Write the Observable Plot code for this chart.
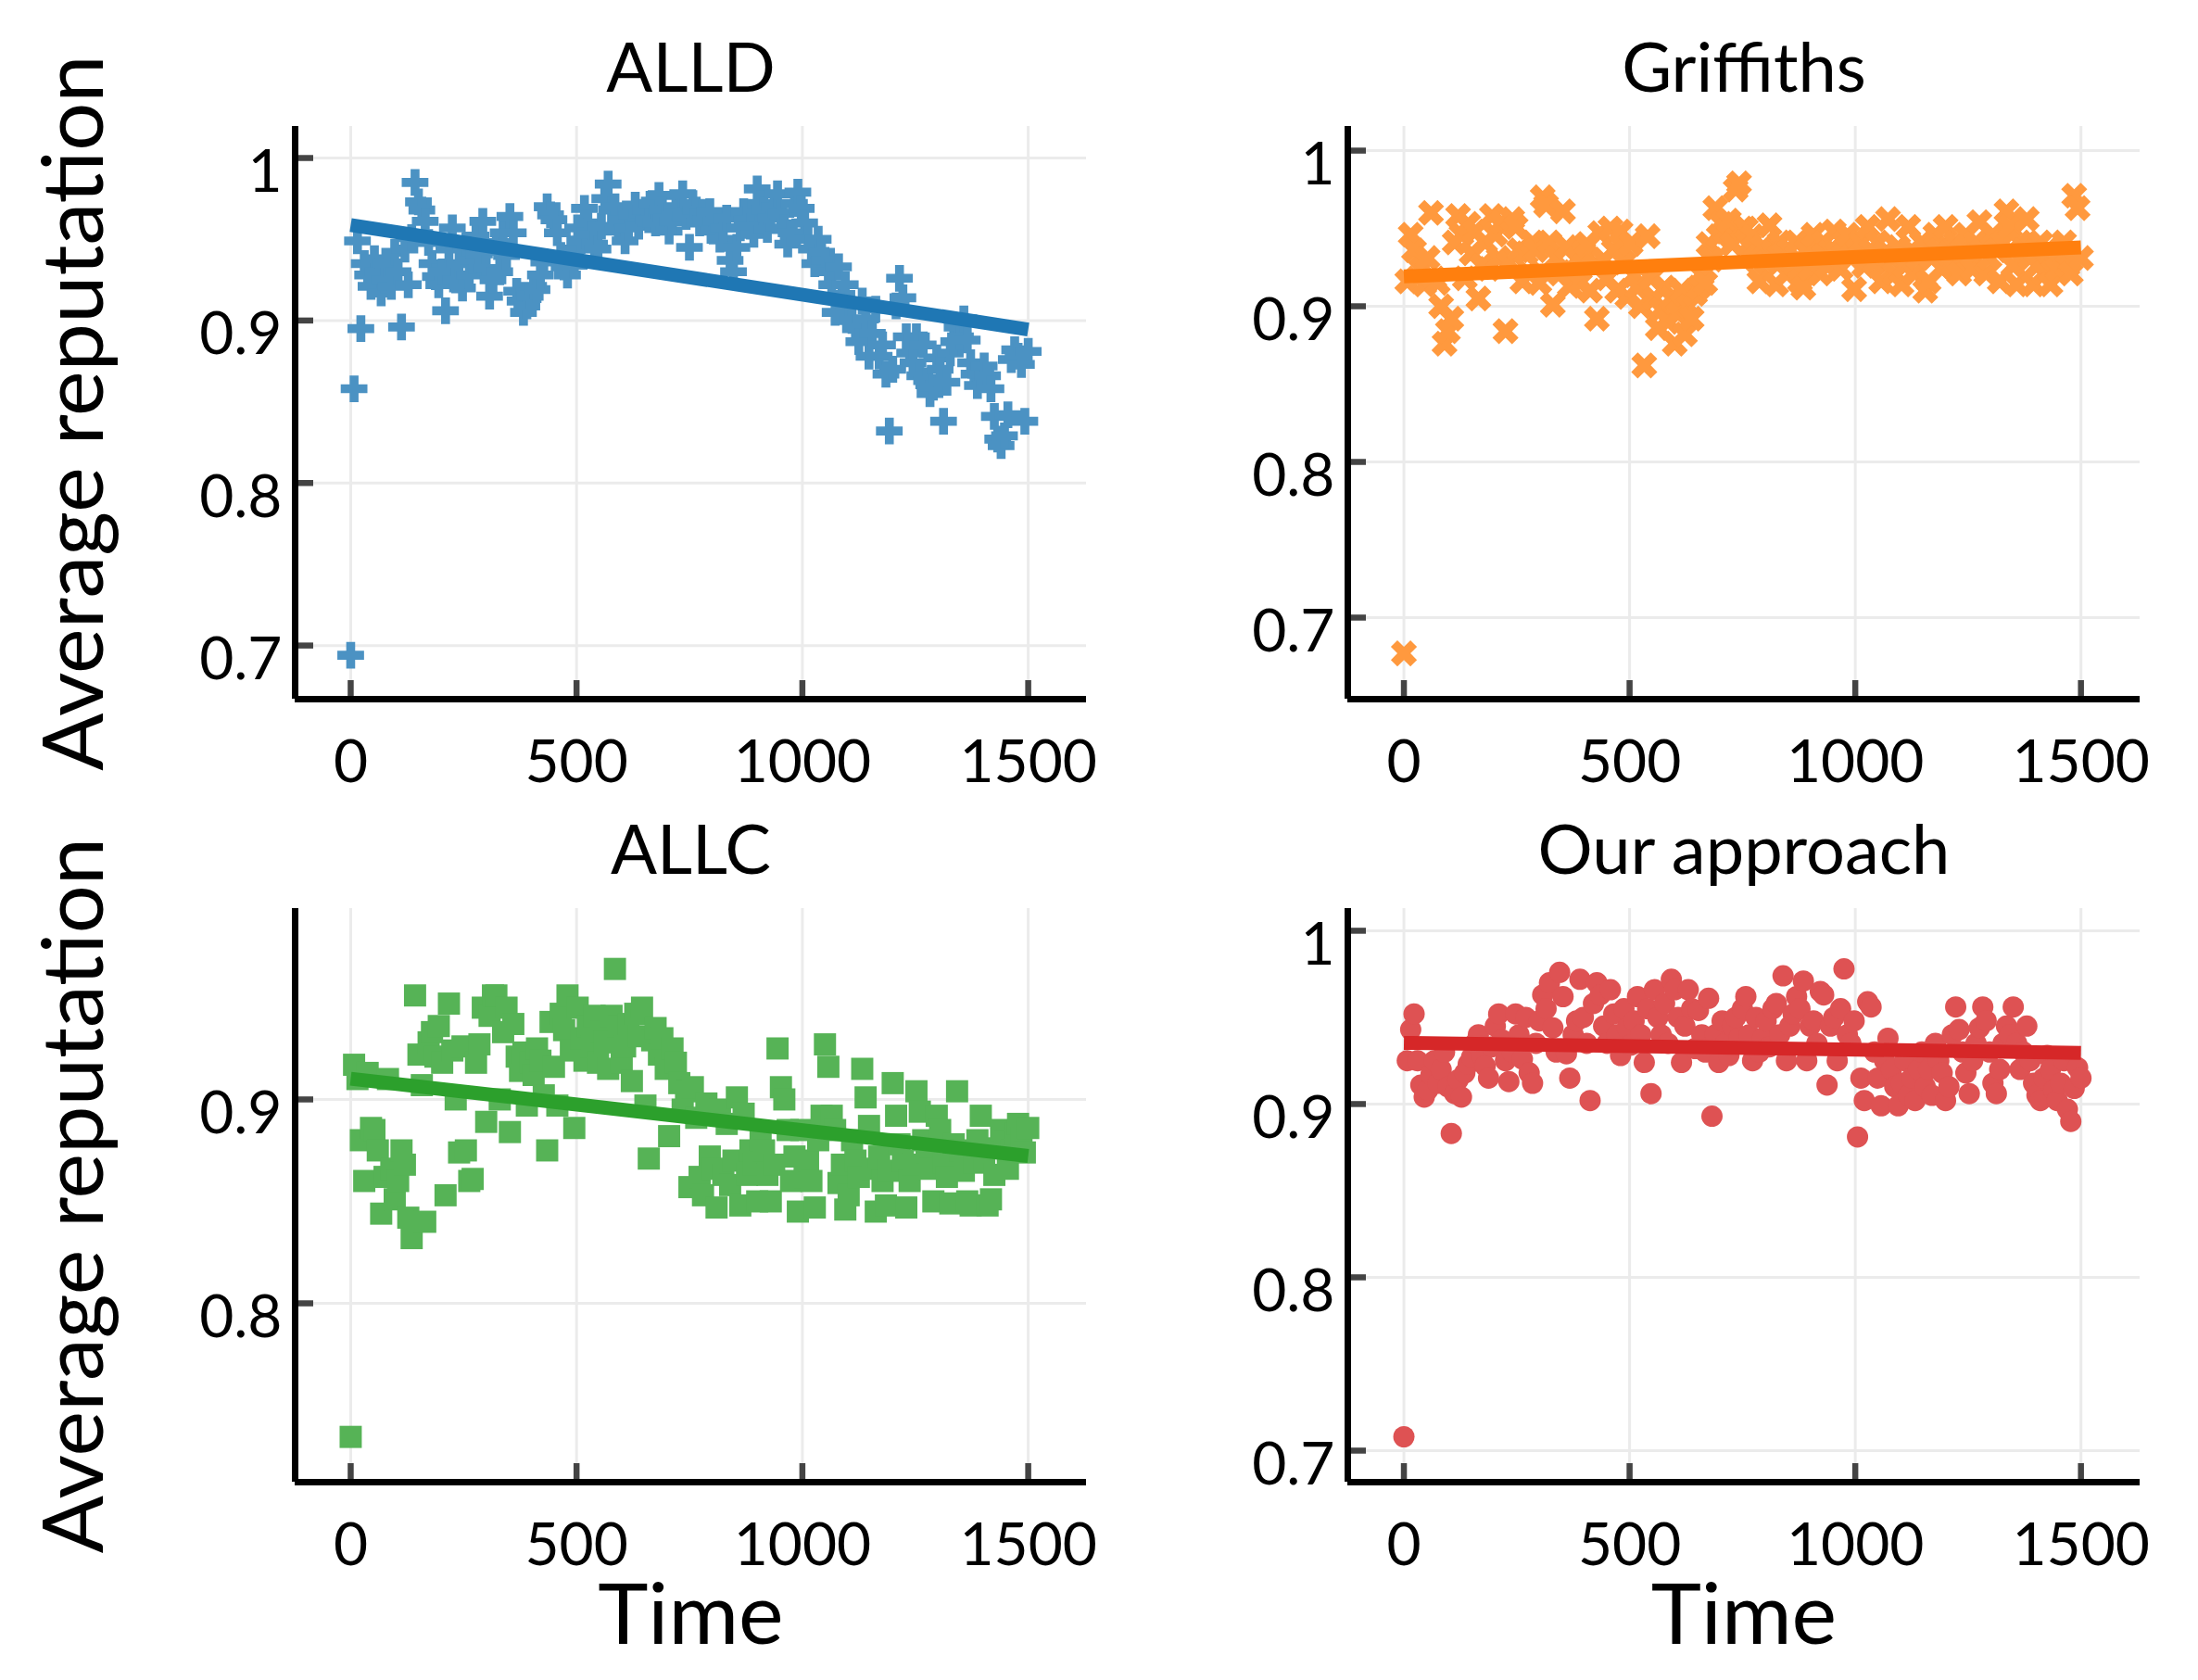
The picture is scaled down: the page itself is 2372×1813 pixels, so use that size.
<!DOCTYPE html>
<html><head><meta charset="utf-8">
<script src="https://cdn.jsdelivr.net/npm/d3@7"></script>
<script src="https://cdn.jsdelivr.net/npm/@observablehq/plot@0.6"></script>
<style>
html,body{margin:0;padding:0;background:#fff;}
#wrap{position:relative;width:2372px;height:1813px;overflow:hidden;}
#wrap svg{position:absolute;}
</style></head><body><div id="wrap"></div>
<script>
const time = [0,7.5,15,22.5,30,37.5,45,52.5,60,67.5,75,82.5,90,97.5,105,112.5,120,127.5,135,142.5,150,157.5,165,172.5,180,187.5,195,202.5,210,217.5,225,232.5,240,247.5,255,262.5,270,277.5,285,292.5,300,307.5,315,322.5,330,337.5,345,352.5,360,367.5,375,382.5,390,397.5,405,412.5,420,427.5,435,442.5,450,457.5,465,472.5,480,487.5,495,502.5,510,517.5,525,532.5,540,547.5,555,562.5,570,577.5,585,592.5,600,607.5,615,622.5,630,637.5,645,652.5,660,667.5,675,682.5,690,697.5,705,712.5,720,727.5,735,742.5,750,757.5,765,772.5,780,787.5,795,802.5,810,817.5,825,832.5,840,847.5,855,862.5,870,877.5,885,892.5,900,907.5,915,922.5,930,937.5,945,952.5,960,967.5,975,982.5,990,997.5,1005,1012.5,1020,1027.5,1035,1042.5,1050,1057.5,1065,1072.5,1080,1087.5,1095,1102.5,1110,1117.5,1125,1132.5,1140,1147.5,1155,1162.5,1170,1177.5,1185,1192.5,1200,1207.5,1215,1222.5,1230,1237.5,1245,1252.5,1260,1267.5,1275,1282.5,1290,1297.5,1305,1312.5,1320,1327.5,1335,1342.5,1350,1357.5,1365,1372.5,1380,1387.5,1395,1402.5,1410,1417.5,1425,1432.5,1440,1447.5,1455,1462.5,1470,1477.5,1485,1492.5,1500];

const alld = [
0.694,0.858,0.949,0.895,0.935,0.928,0.921,0.938,0.930,0.917,
0.925,0.935,0.921,0.942,0.930,0.896,0.944,0.922,0.951,0.985,
0.973,0.968,0.961,0.948,0.935,0.927,0.922,0.930,0.906,0.944,
0.957,0.925,0.935,0.920,0.946,0.928,0.937,0.952,0.941,0.961,
0.932,0.915,0.925,0.948,0.930,0.954,0.940,0.964,0.954,0.918,
0.912,0.905,0.909,0.915,0.921,0.919,0.928,0.936,0.970,0.965,
0.962,0.954,0.940,0.933,0.928,0.944,0.934,0.957,0.949,0.969,
0.960,0.953,0.947,0.944,0.958,0.975,0.984,0.968,0.970,0.955,
0.962,0.949,0.957,0.965,0.971,0.958,0.966,0.968,0.962,0.972,
0.960,0.977,0.968,0.963,0.955,0.961,0.970,0.966,0.978,0.964,
0.945,0.972,0.968,0.960,0.966,0.962,0.967,0.955,0.961,0.950,
0.957,0.963,0.937,0.930,0.945,0.957,0.967,0.962,0.958,0.953,
0.981,0.972,0.968,0.956,0.963,0.970,0.978,0.966,0.957,0.947,
0.954,0.972,0.979,0.969,0.960,0.950,0.944,0.935,0.950,0.942,
0.937,0.930,0.922,0.905,0.933,0.916,0.922,0.910,0.900,0.895,
0.887,0.912,0.901,0.878,0.892,0.907,0.878,0.885,0.867,0.832,
0.870,0.909,0.926,0.914,0.890,0.880,0.874,0.890,0.866,0.885,
0.863,0.855,0.859,0.877,0.870,0.838,0.862,0.880,0.887,0.896,
0.890,0.901,0.888,0.874,0.867,0.860,0.867,0.872,0.866,0.858,
0.841,0.827,0.823,0.829,0.842,0.876,0.882,0.878,0.873,0.838,
0.881];

const griffiths = [
0.677,0.916,0.946,0.936,0.918,0.924,0.914,0.931,0.960,0.918,
0.915,0.900,0.876,0.884,0.892,0.941,0.958,0.946,0.918,0.953,
0.934,0.948,0.905,0.926,0.941,0.924,0.958,0.946,0.931,0.954,
0.884,0.928,0.956,0.951,0.936,0.916,0.934,0.921,0.941,0.936,
0.915,0.970,0.965,0.941,0.901,0.931,0.921,0.961,0.938,0.913,
0.922,0.930,0.915,0.935,0.940,0.910,0.926,0.892,0.947,0.930,
0.918,0.950,0.936,0.910,0.948,0.928,0.906,0.940,0.920,0.912,
0.900,0.862,0.945,0.918,0.905,0.886,0.898,0.912,0.890,0.905,
0.876,0.895,0.910,0.882,0.900,0.892,0.908,0.912,0.920,0.915,
0.940,0.930,0.963,0.945,0.953,0.948,0.955,0.940,0.975,0.979,
0.950,0.950,0.940,0.945,0.930,0.916,0.938,0.928,0.952,0.935,
0.914,0.941,0.934,0.921,0.936,0.928,0.941,0.916,0.912,0.936,
0.924,0.946,0.931,0.921,0.941,0.926,0.936,0.948,0.934,0.924,
0.941,0.946,0.931,0.911,0.936,0.941,0.926,0.951,0.936,0.928,
0.941,0.916,0.934,0.956,0.931,0.921,0.938,0.914,0.926,0.951,
0.936,0.921,0.931,0.941,0.910,0.916,0.931,0.946,0.936,0.924,
0.951,0.934,0.926,0.941,0.921,0.936,0.946,0.931,0.924,0.941,
0.954,0.936,0.921,0.931,0.946,0.936,0.916,0.941,0.961,0.951,
0.926,0.914,0.941,0.936,0.956,0.931,0.914,0.926,0.941,0.921,
0.936,0.914,0.931,0.924,0.936,0.941,0.926,0.921,0.971,0.963,
0.931];

const allc = [
0.7345,0.917,0.910,0.880,0.860,0.913,0.886,0.885,0.875,0.844,
0.862,0.910,0.866,0.851,0.860,0.875,0.868,0.842,0.832,0.951,
0.922,0.907,0.840,0.928,0.933,0.921,0.936,0.918,0.853,0.947,
0.924,0.900,0.874,0.926,0.875,0.860,0.861,0.918,0.927,0.945,
0.889,0.941,0.951,0.951,0.900,0.933,0.945,0.884,0.937,0.921,
0.914,0.923,0.897,0.918,0.912,0.925,0.919,0.902,0.875,0.938,
0.916,0.897,0.942,0.934,0.951,0.924,0.886,0.945,0.930,0.919,
0.936,0.926,0.941,0.918,0.933,0.928,0.915,0.941,0.964,0.936,
0.918,0.926,0.937,0.909,0.942,0.931,0.945,0.897,0.871,0.929,
0.935,0.922,0.930,0.915,0.882,0.925,0.918,0.908,0.895,0.904,
0.857,0.906,0.891,0.862,0.853,0.898,0.872,0.866,0.847,0.895,
0.863,0.888,0.858,0.870,0.901,0.848,0.893,0.863,0.875,0.868,
0.850,0.880,0.875,0.863,0.850,0.868,0.925,0.906,0.900,0.885,
0.860,0.872,0.845,0.885,0.862,0.870,0.860,0.847,0.880,0.892,
0.927,0.916,0.892,0.885,0.859,0.868,0.846,0.853,0.880,0.870,
0.862,0.915,0.901,0.887,0.866,0.845,0.872,0.860,0.848,0.865,
0.908,0.892,0.878,0.870,0.847,0.860,0.868,0.904,0.894,0.880,
0.874,0.866,0.850,0.892,0.885,0.869,0.862,0.849,0.878,0.904,
0.875,0.865,0.850,0.848,0.869,0.880,0.892,0.870,0.848,0.851,
0.863,0.876,0.885,0.879,0.866,0.875,0.883,0.888,0.881,0.874,
0.886];

const ours = [
0.708,0.925,0.943,0.952,0.925,0.911,0.904,0.908,0.917,0.925,
0.912,0.920,0.930,0.910,0.883,0.906,0.914,0.904,0.918,0.923,
0.927,0.935,0.940,0.928,0.922,0.915,0.933,0.945,0.952,0.937,
0.925,0.913,0.930,0.952,0.940,0.926,0.950,0.918,0.912,0.935,
0.948,0.963,0.955,0.970,0.944,0.930,0.976,0.962,0.929,0.915,
0.940,0.948,0.972,0.950,0.935,0.902,0.958,0.970,0.963,0.945,
0.935,0.966,0.952,0.940,0.928,0.955,0.944,0.934,0.948,0.962,
0.940,0.924,0.955,0.906,0.966,0.950,0.940,0.958,0.935,0.972,
0.966,0.950,0.924,0.945,0.966,0.955,0.932,0.954,0.940,0.930,
0.961,0.893,0.940,0.924,0.948,0.935,0.928,0.945,0.950,0.938,
0.955,0.962,0.940,0.925,0.950,0.930,0.938,0.948,0.933,0.955,
0.958,0.940,0.974,0.925,0.945,0.952,0.962,0.955,0.971,0.925,
0.945,0.948,0.935,0.965,0.963,0.911,0.945,0.950,0.925,0.955,
0.978,0.940,0.935,0.948,0.881,0.915,0.902,0.959,0.956,0.930,
0.915,0.899,0.925,0.938,0.920,0.910,0.899,0.912,0.925,0.905,
0.915,0.902,0.920,0.930,0.910,0.920,0.905,0.935,0.925,0.918,
0.902,0.910,0.940,0.956,0.943,0.930,0.918,0.906,0.925,0.935,
0.944,0.956,0.948,0.930,0.912,0.906,0.920,0.935,0.945,0.940,
0.956,0.935,0.920,0.930,0.945,0.925,0.912,0.905,0.902,0.915,
0.928,0.920,0.908,0.902,0.912,0.925,0.897,0.890,0.909,0.921,
0.915];

const titles = ["ALLD", "Griffiths", "ALLC", "Our approach"];
const xTicks = [0, 500, 1000, 1500];
const yTicksFull = [0.7, 0.8, 0.9, 1];
const yTicksAllc = [0.8, 0.9];
const yLabel = "Average reputation";
const xLabel = "Time";

// filled plus (matplotlib "P") and filled x (matplotlib "X")
function crossPoints(h) {
  const a = h / 3;
  return [[-a,-h],[a,-h],[a,-a],[h,-a],[h,a],[a,a],[a,h],[-a,h],[-a,a],[-h,a],[-h,-a],[-a,-a]];
}
const plusFilled = {draw(ctx, size) {
  const r = Math.sqrt(size / Math.PI);
  const p = crossPoints(r * 1.2);
  ctx.moveTo(p[0][0], p[0][1]);
  for (let i = 1; i < p.length; i++) ctx.lineTo(p[i][0], p[i][1]);
  ctx.closePath();
}};
const xFilled = {draw(ctx, size) {
  const r = Math.sqrt(size / Math.PI);
  const p = crossPoints(r * 1.3).map(([x, y]) => [(x - y) / Math.SQRT2, (x + y) / Math.SQRT2]);
  ctx.moveTo(p[0][0], p[0][1]);
  for (let i = 1; i < p.length; i++) ctx.lineTo(p[i][0], p[i][1]);
  ctx.closePath();
}};

const panels = [
  {data: alld, title: titles[0], color: "#1f77b4", light: "#4b92c3", symbol: plusFilled, r: 12,
   xDomain: [-123, 1629], yDomain: [0.667, 1.0194], yTicks: yTicksFull,
   left: 0, top: 0, m: {marginLeft: 318, marginRight: 14, marginTop: 136, marginBottom: 152}, ylab: true, xlab: false},
  {data: griffiths, title: titles[1], color: "#ff7f0e", light: "#ff993e", symbol: xFilled, r: 11.5,
   xDomain: [-124.3, 1631], yDomain: [0.6476, 1.0155], yTicks: yTicksFull,
   left: 1186, top: 0, m: {marginLeft: 268, marginRight: 63, marginTop: 136, marginBottom: 152}, ylab: false, xlab: false},
  {data: allc, title: titles[2], color: "#2ca02c", light: "#56b356", symbol: "square", r: 13.5,
   xDomain: [-123, 1629], yDomain: [0.7123, 0.9936], yTicks: yTicksAllc,
   left: 0, top: 906, m: {marginLeft: 318, marginRight: 14, marginTop: 74, marginBottom: 213}, ylab: true, xlab: true},
  {data: ours, title: titles[3], color: "#d62728", light: "#de5253", symbol: "circle", r: 11.5,
   xDomain: [-124.3, 1631], yDomain: [0.6818, 1.0128], yTicks: yTicksFull,
   left: 1186, top: 906, m: {marginLeft: 268, marginRight: 63, marginTop: 74, marginBottom: 213}, ylab: false, xlab: true}
];

const wrap = document.getElementById("wrap");
const fmt = d => String(d);

for (const p of panels) {
  const pts = time.map((t, i) => ({t, v: p.data[i]}));
  const marks = [
    Plot.gridX(xTicks, {stroke: "#ebebeb", strokeOpacity: 1, strokeWidth: 3}),
    Plot.gridY(p.yTicks, {stroke: "#ebebeb", strokeOpacity: 1, strokeWidth: 3}),
    Plot.dot(pts, {x: "t", y: "v", r: p.r, symbol: p.symbol, fill: p.light, stroke: "none"}),
    Plot.linearRegressionY(pts, {x: "t", y: "v", stroke: p.color, strokeWidth: 15, strokeLinecap: "butt", ci: 0}),
    Plot.axisX(xTicks, {anchor: "bottom", tickSize: 20, dy: -20, fill: "none", stroke: "#444", strokeWidth: 6.5, label: null}),
    Plot.axisY(p.yTicks, {anchor: "left", tickSize: 20, dx: 20, fill: "none", stroke: "#444", strokeWidth: 6.5, label: null}),
    Plot.axisX(xTicks, {anchor: "bottom", tickSize: 0, tickPadding: 44, fontSize: 64, fill: "#000", label: null, tickFormat: fmt}),
    Plot.axisY(p.yTicks, {anchor: "left", tickSize: 0, tickPadding: 14, dy: 16, fontSize: 64, fill: "#000", label: null, tickFormat: fmt}),
    Plot.ruleX([p.xDomain[0]], {stroke: "#000", strokeWidth: 7}),
    Plot.ruleY([p.yDomain[0]], {stroke: "#000", strokeWidth: 7}),
    Plot.text([p.title], {frameAnchor: "top", dy: -38, lineAnchor: "bottom", fontSize: 74, fill: "#000"})
  ];
  if (p.ylab) marks.push(Plot.text([yLabel], {frameAnchor: "left", textAnchor: "middle", rotate: -90, dx: -208, lineAnchor: "bottom", fontSize: 92, fill: "#000"}));
  if (p.xlab) marks.push(Plot.text([xLabel], {frameAnchor: "bottom", dy: 174, lineAnchor: "bottom", fontSize: 92, fill: "#000"}));
  const chart = Plot.plot({
    width: 1186, height: 906, ...p.m,
    style: {fontFamily: "Lato, 'Open Sans', sans-serif", fontSize: "60px", color: "#000", background: "transparent", overflow: "visible"},
    x: {domain: p.xDomain},
    y: {domain: p.yDomain},
    marks
  });
  chart.style.left = p.left + "px";
  chart.style.top = p.top + "px";
  wrap.appendChild(chart);
}
</script>
</body></html>
